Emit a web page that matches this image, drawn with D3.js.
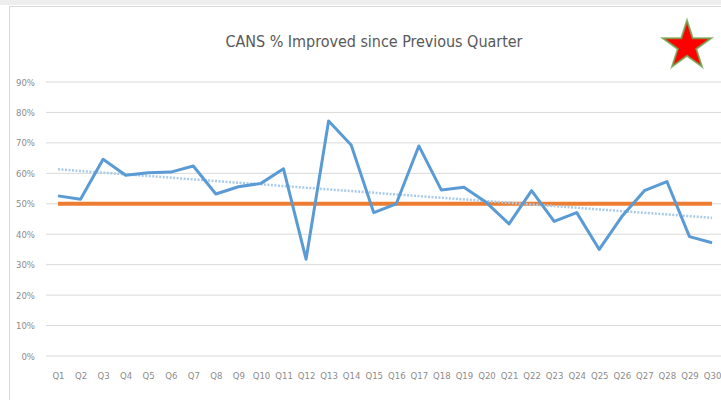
<!DOCTYPE html>
<html>
<head>
<meta charset="utf-8">
<script src="https://cdn.jsdelivr.net/npm/d3@7"></script>
<style>
  body { margin: 0; background: #fff; }
  svg { display: block; }
  .tick-label { font-family: "DejaVu Sans Condensed", "DejaVu Sans", sans-serif; font-stretch: condensed; fill: #8c8c8c; font-size: 9.5px; }
  .title { font-family: "DejaVu Sans Condensed", "DejaVu Sans", sans-serif; font-stretch: condensed; fill: #595959; font-size: 16px; }
</style>
</head>
<body>
<svg id="chart" width="721" height="400"></svg>
<script>
// quarters and % improved
const quarters = d3.range(1, 31).map(i => 'Q' + i);
const improved = [52.6, 51.5, 64.6, 59.4, 60.2, 60.4, 62.4, 53.2, 55.6, 56.7,
                  61.5, 31.8, 77.2, 69.3, 47.1, 50.0, 69.0, 54.5, 55.4, 50.4,
                  43.4, 54.3, 44.2, 47.1, 35.0, 45.8, 54.3, 57.3, 39.2, 37.2];
const target = 50;
const yTicks = [0, 10, 20, 30, 40, 50, 60, 70, 80, 90];
const chartTitle = 'CANS % Improved since Previous Quarter';

let svg = d3.select('#chart');

// outer frame like the pasted excel chart
svg.append('rect').attr('x', 0).attr('y', 0).attr('width', 721).attr('height', 5).attr('fill', '#eeeeee');
svg.append('line').attr('x1', 9).attr('x2', 721).attr('y1', 6.5).attr('y2', 6.5).attr('stroke', '#d9d9d9');
svg.append('line').attr('x1', 9.5).attr('x2', 9.5).attr('y1', 6).attr('y2', 400).attr('stroke', '#d9d9d9');

let xScale = d3.scalePoint()
    .domain(quarters)
    .range([46.7, 723.3])
    .padding(0.5);

let yScale = d3.scaleLinear()
    .domain([0, 90])
    .range([356, 82]);

// gridlines
svg.append('g')
    .selectAll('line')
    .data(yTicks)
    .join('line')
    .attr('x1', 46)
    .attr('x2', 723)
    .attr('y1', d => yScale(d))
    .attr('y2', d => yScale(d))
    .attr('stroke', '#d9d9d9')
    .attr('stroke-width', 1);

// y-axis labels
let yAxis = svg.append('g')
    .attr('transform', 'translate(35,0)')
    .call(d3.axisLeft(yScale).tickValues(yTicks).tickSize(0).tickPadding(0).tickFormat(d => d + '%'));
yAxis.select('.domain').remove();
yAxis.selectAll('.tick text').attr('class', 'tick-label').attr('font-size', null).attr('font-family', null).attr('fill', null);

// x-axis labels
let xAxis = svg.append('g')
    .attr('transform', 'translate(0,372)')
    .call(d3.axisBottom(xScale).tickSize(0).tickPadding(0));
xAxis.select('.domain').remove();
xAxis.selectAll('.tick text').attr('class', 'tick-label').attr('font-size', null).attr('font-family', null).attr('fill', null);

// title
svg.append('text')
    .attr('class', 'title')
    .attr('x', 374)
    .attr('y', 47)
    .attr('text-anchor', 'middle')
    .attr('textLength', 297)
    .text(chartTitle);

// target line at 50%
svg.append('line')
    .attr('x1', xScale(quarters[0]))
    .attr('x2', xScale(quarters[quarters.length - 1]))
    .attr('y1', yScale(target))
    .attr('y2', yScale(target))
    .attr('stroke', '#ed7d31')
    .attr('stroke-width', 4);

// linear trendline (least squares on the series)
let idx = improved.map((d, i) => i + 1);
let mx = d3.mean(idx), my = d3.mean(improved);
let slope = d3.sum(idx, (x, i) => (x - mx) * (improved[i] - my)) / d3.sum(idx, x => (x - mx) * (x - mx));
let icpt = my - slope * mx;
let trend = [1, quarters.length].map(x => ({ q: quarters[x - 1], v: icpt + slope * x }));

let line = d3.line()
    .x(d => xScale(d.q))
    .y(d => yScale(d.v));

svg.append('path')
    .datum(trend)
    .attr('d', line)
    .attr('fill', 'none')
    .attr('stroke', '#a9cbea')
    .attr('stroke-width', 2.5)
    .style('stroke-dasharray', '2,1.5');

// main series
svg.append('path')
    .datum(quarters.map((q, i) => ({ q: q, v: improved[i] })))
    .attr('d', line)
    .attr('fill', 'none')
    .attr('stroke', '#5b9bd5')
    .attr('stroke-width', 3)
    .attr('stroke-linejoin', 'round');

// star badge top right
let star = d3.symbol().type(d3.symbolStar).size(725);
svg.append('path')
    .attr('d', star())
    .attr('transform', 'translate(687,46)')
    .attr('fill', '#ff0000')
    .attr('stroke', '#6aa84f')
    .attr('stroke-width', 2)
    .attr('stroke-opacity', 0.8);
</script>
</body>
</html>
